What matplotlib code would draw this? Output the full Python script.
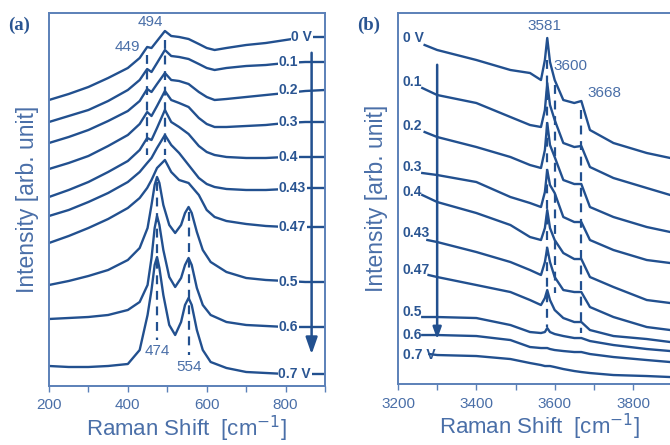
import matplotlib
matplotlib.use("Agg")
import matplotlib.pyplot as plt
from matplotlib.ticker import MultipleLocator, NullLocator

# ---------------- data: panel (a) ----------------
xa_broad = [200, 250, 300, 350, 400, 430, 449, 460, 474, 494, 510, 530, 554, 580,
            600, 620, 650, 700, 750, 800, 850, 900]
a_0 = [286, 292, 299, 308, 318, 328, 339, 338, 345, 355, 350, 349, 347, 342, 338, 336, 338, 341, 343, 346, 349, 349]
a_01 = [264, 270, 276, 285, 296, 306, 317, 314, 323, 336, 330, 329, 327, 322, 318, 316, 318, 320, 321, 323, 324, 324]
a_02 = [243, 249, 256, 265, 275, 285, 297, 294, 302, 313, 306, 305, 302, 294, 289, 286, 287, 289, 291, 293, 295, 296]
a_03 = [217, 223, 230, 240, 251, 262, 274, 270, 280, 295, 286, 283, 279, 268, 262, 259, 259, 260, 261, 263, 264, 264]
a_04 = [189, 196, 204, 214, 225, 236, 248, 246, 258, 276, 264, 259, 252, 240, 234, 231, 229, 228, 228, 229, 229, 229]
a_043 = [170, 176, 184, 193, 204, 214, 223, 228, 238, 251, 241, 233, 221, 208, 202, 199, 197, 196, 196, 197, 198, 198]
a_047 = [143, 150, 158, 167, 178, 188, 198, 206, 218, 226, 214, 206, 203, 191, 176, 169, 165, 162, 160, 159, 159, 159]

xa_sharp = [200, 250, 300, 350, 400, 430, 450, 460, 468, 474, 480, 490, 505, 520, 535,
            545, 554, 562, 575, 590, 610, 650, 700, 750, 800, 850, 900]
a_05 = [101, 105, 110, 116, 126, 138, 158, 181, 201, 209, 203, 181, 161, 153, 161, 173, 179, 173, 154, 136, 124, 114, 108, 106, 105, 104, 104]
a_06 = [67, 68, 69, 71, 76, 84, 101, 128, 158, 170, 161, 136, 109, 99, 108, 121, 128, 121, 98, 81, 71, 64, 61, 60, 59, 59, 59]
a_07 = [20, 19, 19, 20, 22, 36, 71, 96, 121, 129, 118, 91, 61, 51, 64, 81, 88, 81, 56, 36, 24, 18, 14, 13, 12, 12, 12]

a_labels = ["0 V", "0.1", "0.2", "0.3", "0.4", "0.43", "0.47", "0.5", "0.6", "0.7 V"]
a_peaks = [449, 494, 474, 554]
a_peak_labels = ["449", "494", "474", "554"]

# ---------------- data: panel (b) ----------------
xb = [3268, 3300, 3400, 3487, 3537, 3565, 3575, 3581, 3588, 3600, 3622, 3650, 3668,
      3690, 3750, 3835, 3895]
b_start = [3268, 3262, 3268, 3262, 3262, 3275, 3278, 3262, 3262, 3280]
b_0 = [339, 334, 324, 314, 311, 304, 324, 346, 322, 304, 284, 281, 283, 254, 241, 231, 226]
b_01 = [296, 289, 281, 267, 259, 257, 274, 301, 279, 264, 241, 237, 238, 217, 206, 196, 189]
b_02 = [252, 247, 237, 227, 219, 216, 234, 261, 239, 227, 204, 200, 200, 177, 167, 157, 152]
b_03 = [211, 209, 202, 187, 181, 177, 192, 214, 199, 191, 167, 162, 162, 144, 134, 124, 121]
b_04 = [189, 182, 171, 159, 147, 144, 156, 174, 156, 144, 131, 125, 125, 107, 97, 84, 81]
b_043 = [144, 142, 132, 122, 114, 109, 122, 136, 122, 107, 94, 92, 92, 77, 67, 57, 54]
b_047 = [109, 107, 99, 92, 84, 79, 86, 94, 84, 74, 66, 62, 62, 54, 48, 45, 42]
b_05 = [67, 67, 66, 59, 52, 51, 52, 56, 52, 50, 48, 46, 46, 43, 39, 35, 33]
b_06 = [49, 49, 48, 44, 37, 36, 36, 36, 35, 34, 33, 32, 32, 30, 27, 24, 22]
b_07 = [30, 29, 28, 25, 21, 19, 18, 18, 18, 17, 15, 13, 12, 11, 9, 8, 7]
b_label_y = [346, 302, 258, 217, 192, 151, 114, 72, 49, 29]
b_labels = ["0 V", "0.1", "0.2", "0.3", "0.4", "0.43", "0.47", "0.5", "0.6", "0.7 V"]
b_peaks = [3581, 3600, 3668]
b_peak_labels = ["3581", "3600", "3668"]

# ---------------- style ----------------
LINE = "#22508f"
TEXT = "#4a6fa8"
SPINE = "#5b80b8"
LABEL = "#2a5592"
SANS = ["Liberation Sans", "DejaVu Sans"]
LW = 1.7

fig = plt.figure(figsize=(6.7, 4.45), dpi=100)
axA = fig.add_axes([0.0731, 0.1326, 0.412, 0.8382])
axB = fig.add_axes([0.594, 0.137, 0.421, 0.8338])


def style(ax):
    for s in ax.spines.values():
        s.set_color(SPINE)
        s.set_linewidth(1.4)
    ax.xaxis.set_major_locator(MultipleLocator(200))
    ax.xaxis.set_minor_locator(MultipleLocator(100))
    ax.yaxis.set_major_locator(NullLocator())
    ax.tick_params(axis="x", which="both", direction="out", length=4, width=1,
                   color=SPINE, labelcolor=TEXT, labelsize=11, pad=5)
    for lab in ax.get_xticklabels():
        lab.set_family(SANS)
    ax.set_xlabel("Raman Shift  [cm$^{-1}$]", color=TEXT, fontsize=16,
                  family=SANS, labelpad=1)
    ax.set_ylabel("Intensity [arb. unit]", color=TEXT, fontsize=16.5,
                  family=SANS, labelpad=7)


# ---- panel (a)
broad = [a_0, a_01, a_02, a_03, a_04, a_043, a_047]
sharp = [a_05, a_06, a_07]
for ys in broad:
    axA.plot(xa_broad, ys, color=LINE, lw=LW, zorder=2)
for ys in sharp:
    axA.plot(xa_sharp, ys, color=LINE, lw=LW, zorder=2)
ends_a = [c[-1] for c in broad] + [c[-1] for c in sharp]
for i, (lab, yv) in enumerate(zip(a_labels, ends_a)):
    xl = 815 if i == 0 else 782
    axA.text(xl, yv, lab, color=LABEL, fontsize=10, fontweight="bold",
             family=SANS, ha="left", va="center", zorder=3,
             bbox=dict(facecolor="white", edgecolor="none", pad=0.6))
axA.annotate("", xy=(866, 29), xytext=(866, 336),
             arrowprops=dict(arrowstyle="-|>,head_length=1.0,head_width=0.35",
                             color=LINE, lw=1.8), zorder=4)
dash_a = [(331, 231), (346, 231), (204, 46), (174, 31)]
for xp, (y0, y1) in zip(a_peaks, dash_a):
    axA.plot([xp, xp], [y0, y1], color=LINE, lw=1.6, ls=(0, (4, 3)), zorder=2)
pos_a = [(398, 339), (457, 364), (474, 35), (556, 19)]
for lab, (xp, yp) in zip(a_peak_labels, pos_a):
    axA.text(xp, yp, lab, color=TEXT, fontsize=11, family=SANS,
             ha="center", va="center", zorder=3)
axA.set_xlim(200, 900)
axA.set_ylim(0, 373)
style(axA)
fig.text(0.012, 0.942, "(a)", color=LABEL, fontsize=13.5, fontweight="bold",
         family=["Liberation Serif", "DejaVu Serif"], ha="left", va="center")

# ---- panel (b)
curves_b = [b_0, b_01, b_02, b_03, b_04, b_043, b_047, b_05, b_06, b_07]
for st, ys in zip(b_start, curves_b):
    axB.plot([st] + xb[1:], ys, color=LINE, lw=LW, zorder=2)
for lab, yv in zip(b_labels, b_label_y):
    axB.text(3212, yv, lab, color=LABEL, fontsize=10, fontweight="bold",
             family=SANS, ha="left", va="center", zorder=3)
axB.annotate("", xy=(3300, 42), xytext=(3300, 322),
             arrowprops=dict(arrowstyle="-|>,head_length=0.7,head_width=0.25",
                             color=LINE, lw=1.8), zorder=4)
dash_b = [(324, 57), (299, 91), (274, 51)]
for xp, (y0, y1) in zip(b_peaks, dash_b):
    axB.plot([xp, xp], [y0, y1], color=LINE, lw=1.6, ls=(0, (4, 3)), zorder=2)
pos_b = [(3575, 358), (3639, 318), (3726, 291)]
for lab, (xp, yp) in zip(b_peak_labels, pos_b):
    axB.text(xp, yp, lab, color=TEXT, fontsize=11, family=SANS,
             ha="center", va="center", zorder=3)
axB.set_xlim(3200, 3920)
axB.set_ylim(0, 371)
style(axB)
fig.text(0.533, 0.942, "(b)", color=LABEL, fontsize=13.5, fontweight="bold",
         family=["Liberation Serif", "DejaVu Serif"], ha="left", va="center")

fig.savefig("out.png", dpi=100)
